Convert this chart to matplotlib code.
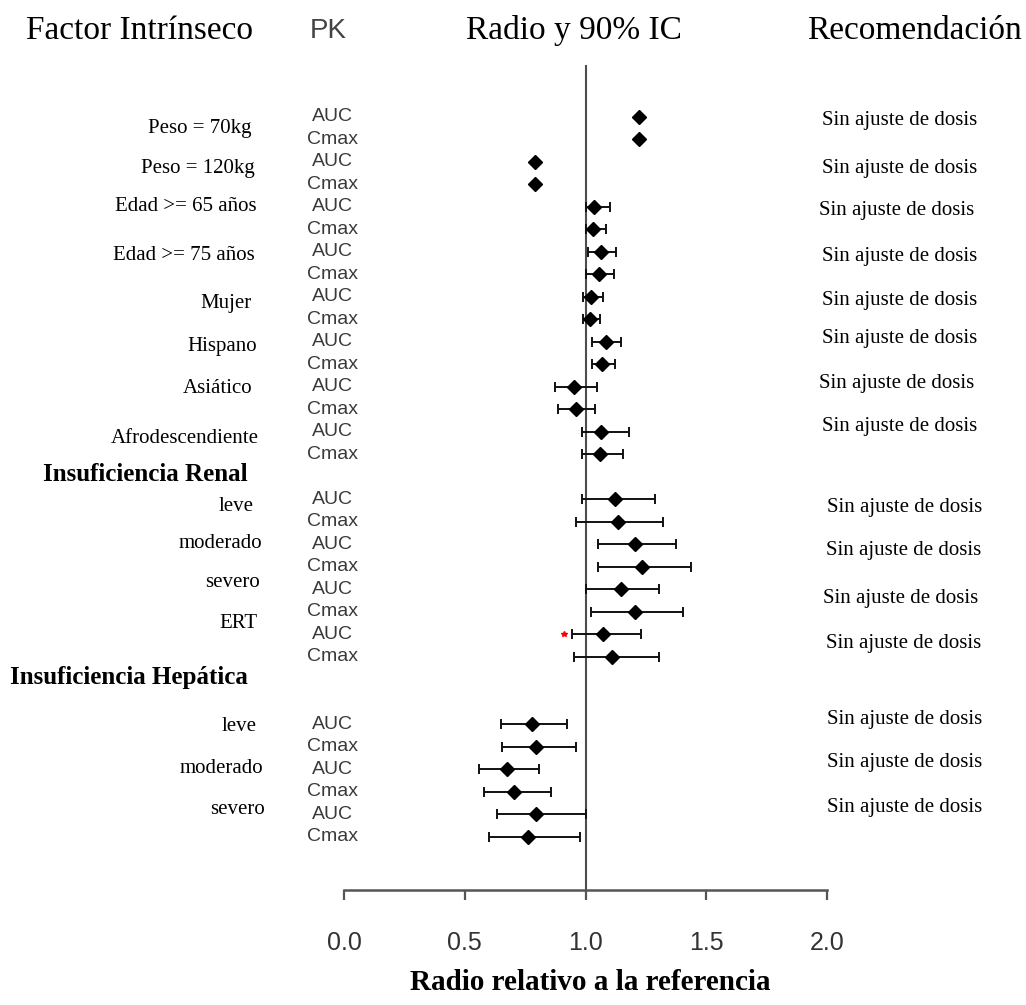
import matplotlib
matplotlib.use("Agg")
import matplotlib.pyplot as plt
import matplotlib.transforms as mtransforms

# ---------------- data ----------------
factor_labels = ["Peso = 70kg", "Peso = 120kg", "Edad >= 65 años", "Edad >= 75 años",
                 "Mujer", "Hispano", "Asiático", "Afrodescendiente",
                 "leve", "moderado", "severo", "ERT",
                 "leve", "moderado", "severo"]
group_headers = ["Insuficiencia Renal", "Insuficiencia Hepática"]
pk_labels = ["AUC", "Cmax"] * 15
ratio = [1.221, 1.221, 0.790, 0.790, 1.035, 1.030, 1.066, 1.055, 1.021, 1.017,
         1.083, 1.069, 0.952, 0.959, 1.066, 1.059,
         1.124, 1.134, 1.207, 1.235, 1.145, 1.204, 1.072, 1.110,
         0.779, 0.796, 0.675, 0.706, 0.796, 0.762]
lower = [1.221, 1.221, 0.790, 0.790, 1.004, 1.004, 1.010, 1.004, 0.989, 0.989,
         1.028, 1.028, 0.872, 0.885, 0.986, 0.986,
         0.986, 0.961, 1.051, 1.051, 1.004, 1.021, 0.945, 0.952,
         0.651, 0.653, 0.558, 0.579, 0.634, 0.599]
upper = [1.221, 1.221, 0.790, 0.790, 1.100, 1.083, 1.128, 1.120, 1.072, 1.062,
         1.145, 1.124, 1.046, 1.039, 1.182, 1.155,
         1.286, 1.320, 1.373, 1.435, 1.304, 1.405, 1.228, 1.304,
         0.924, 0.961, 0.809, 0.858, 1.000, 0.977]
recommendations = ["Sin ajuste de dosis"] * 15
x_ticks = [0.0, 0.5, 1.0, 1.5, 2.0]
x_tick_labels = ["0.0", "0.5", "1.0", "1.5", "2.0"]
red_mark_x = [0.909]

# ---------------- layout ----------------
W, H = 1026, 1005
rows = list(range(0, 16)) + list(range(17, 25)) + list(range(27, 33))
red_mark_row = [23]
factor_y = [0.52, 2.29, 4.0, 6.15, 8.32, 10.22, 12.07, 14.29,
            17.33, 18.99, 20.71, 22.52, 27.11, 28.96, 30.81]
factor_xr = [252, 255, 257, 255, 252, 257, 252, 259,
             254, 262, 260, 258, 257, 263, 265]
header_y = [15.92, 24.92]
header_xl = [43, 10]
rec_y = [0.18, 2.29, 4.15, 6.22, 8.15, 9.85, 11.85, 13.78,
         17.36, 19.29, 21.4, 23.4, 26.8, 28.7, 30.7]
rec_xl = [822, 822, 819, 822, 822, 822, 819, 822,
          827, 826, 823, 826, 827, 827, 827]

plt.rcParams['font.family'] = ['Liberation Serif', 'DejaVu Serif']
fig = plt.figure(figsize=(W / 100, H / 100), dpi=100)
ax_left, ax_right, ax_top, ax_bot = 344, 827, 65, 890
ax = fig.add_axes([ax_left / W, 1 - ax_bot / H, (ax_right - ax_left) / W, (ax_bot - ax_top) / H])
ax.set_xlim(0, 2)
row_px0, row_step = 116.7, 22.5
ax.set_ylim((ax_bot - row_px0) / row_step, (ax_top - row_px0) / row_step)

# reference line
ax.axvline(1.0, color='#4d4d4d', lw=1.5, zorder=1)

# error bars and diamonds
xerr = [[r - l for r, l in zip(ratio, lower)], [u - r for r, u in zip(ratio, upper)]]
ax.errorbar(ratio, rows, xerr=xerr, fmt='none', ecolor='#111111', elinewidth=1.4,
            capsize=3.5, capthick=1.4, zorder=2)
ax.plot(ratio, rows, linestyle='none', marker='D', ms=7.6, color='black', zorder=3)
ax.plot(red_mark_x, red_mark_row, linestyle='none', marker='*', ms=4, color='red', zorder=3)

# axes styling
for s in ['top', 'right', 'left']:
    ax.spines[s].set_visible(False)
ax.spines['bottom'].set_color('#555555')
ax.spines['bottom'].set_linewidth(1.8)
ax.spines['bottom'].set_bounds(0, 2)
ax.set_yticks([])
ax.set_xticks(x_ticks)
ax.set_xticklabels(x_tick_labels, fontfamily='Liberation Sans', fontsize=18, color='#333333')
ax.tick_params(axis='x', direction='out', length=7.5, width=1.6, color='#555555', pad=22)

trans_fd = mtransforms.blended_transform_factory(fig.transFigure, ax.transData)

# PK labels
for r, lab in zip(rows, pk_labels):
    ax.text(332 / W, r, lab, transform=trans_fd, ha='center', va='center', fontsize=14,
            fontfamily='Liberation Sans', color='#3a3a3a')

# factor labels
for lab, y, xr in zip(factor_labels, factor_y, factor_xr):
    ax.text(xr / W, y, lab, transform=trans_fd, ha='right', va='center', fontsize=15, color='black')
for lab, y, xl in zip(group_headers, header_y, header_xl):
    ax.text(xl / W, y, lab, transform=trans_fd, ha='left', va='center', fontsize=18,
            fontweight='bold', color='black')
# recommendations
for lab, y, xl in zip(recommendations, rec_y, rec_xl):
    ax.text(xl / W, y, lab, transform=trans_fd, ha='left', va='center', fontsize=15, color='black')

# column headers
hy = 1 - 31 / H
fig.text(140 / W, hy, "Factor Intrínseco", ha='center', va='center', fontsize=24)
fig.text(328 / W, hy, "PK", ha='center', va='center', fontsize=20,
         fontfamily='Liberation Sans', color='#444444')
fig.text(574 / W, hy, "Radio y 90% IC", ha='center', va='center', fontsize=24)
fig.text(914 / W, hy, "Recomendación", ha='center', va='center', fontsize=24)

# x-axis title
fig.text(590 / W, 1 - 982 / H, "Radio relativo a la referencia", ha='center', va='center',
         fontsize=21, fontweight='bold')

fig.savefig("out.png", dpi=100, facecolor='white')
